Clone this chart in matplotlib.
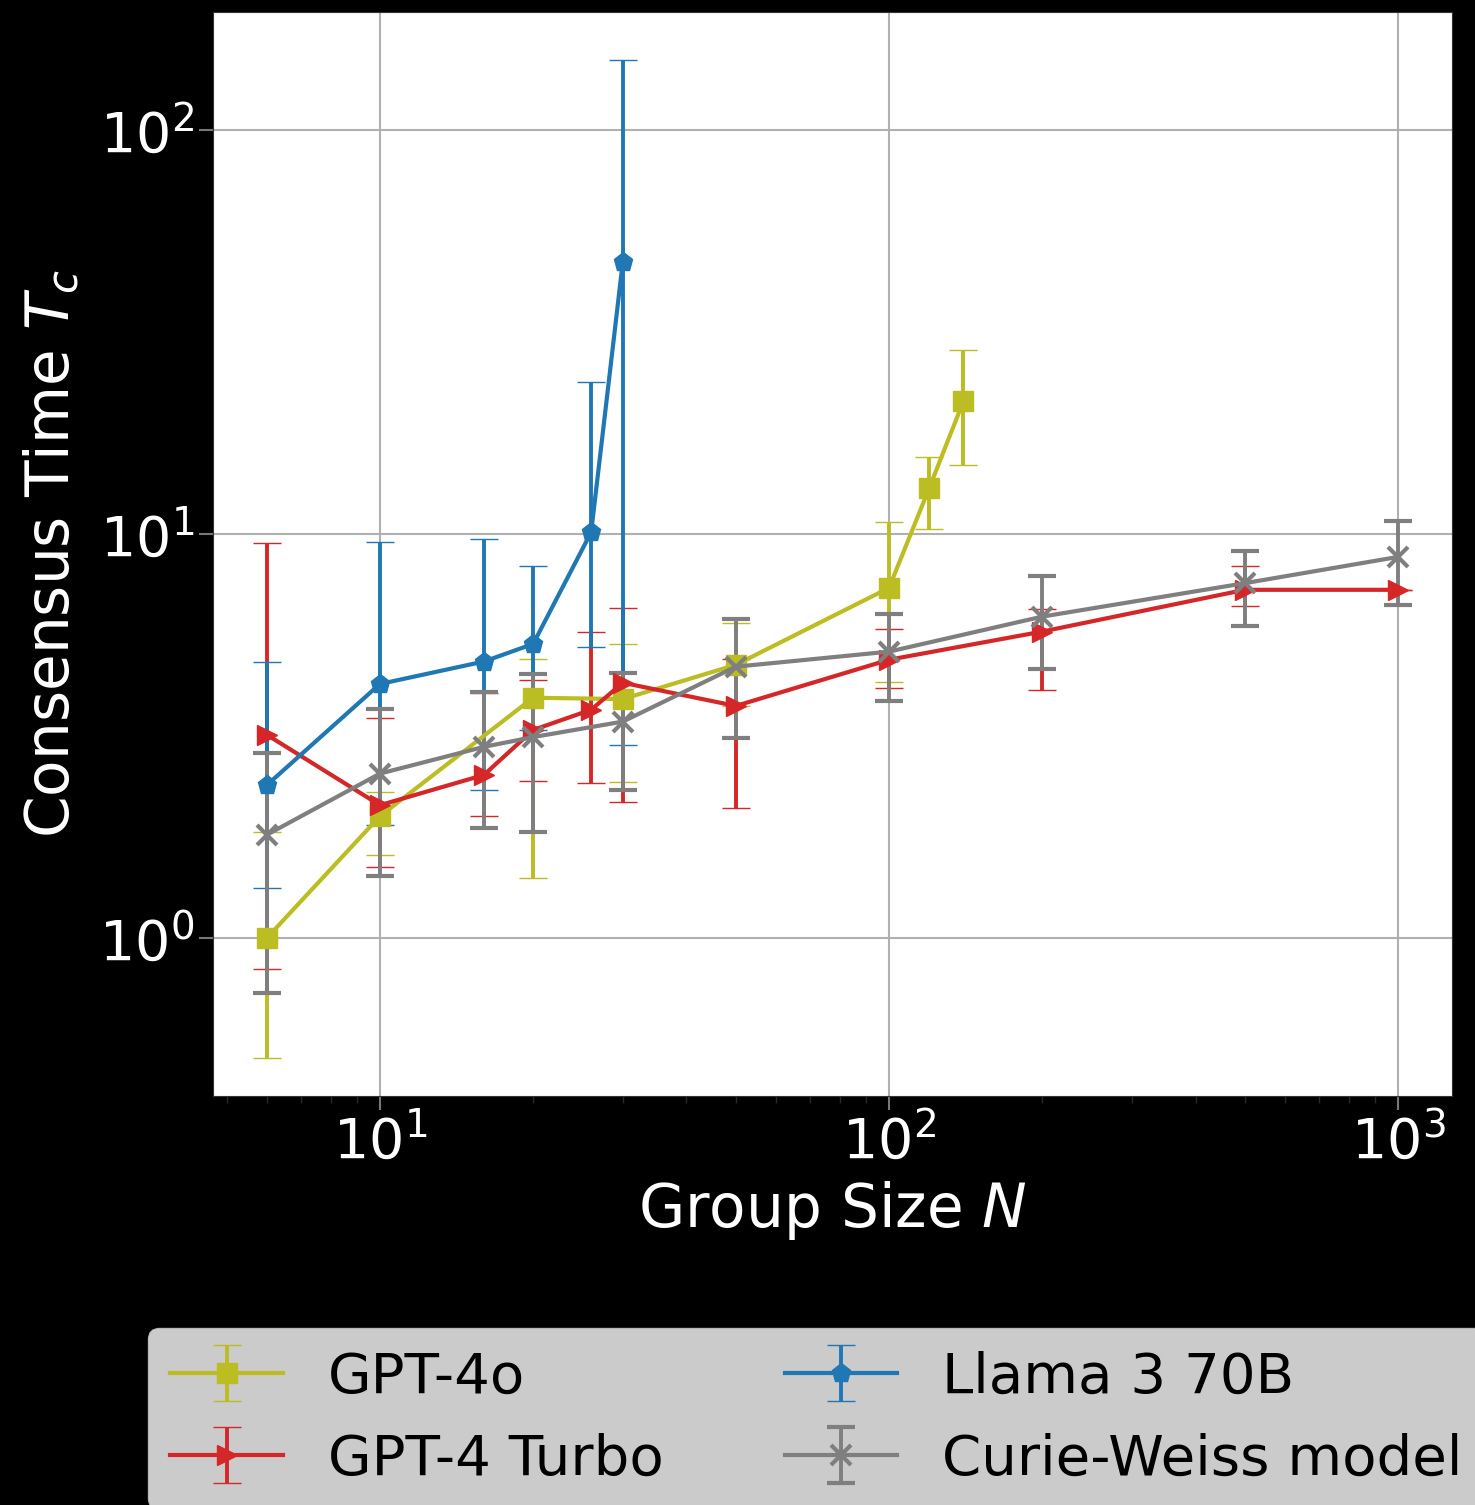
import matplotlib
matplotlib.use('Agg')
import matplotlib.pyplot as plt
import numpy as np

# group sizes
n_4o = [6, 10, 20, 30, 50, 100, 120, 140]
n_turbo = [6, 10, 16, 20, 26, 30, 50, 100, 200, 500, 1000]
n_llama = [6, 10, 16, 20, 26, 30]
n_cw = [6, 10, 16, 20, 30, 50, 100, 200, 500, 1000]

# consensus times with lower / upper error bar ends
t_4o = [1.0, 2.0, 3.93, 3.9, 4.74, 7.35, 13.0, 21.3]
lo_4o = [0.505, 1.60, 1.41, 2.43, 3.75, 4.30, 10.3, 14.8]
hi_4o = [1.83, 2.30, 4.90, 5.34, 6.02, 10.7, 15.5, 28.5]

t_turbo = [3.18, 2.13, 2.53, 3.27, 3.67, 4.28, 3.75, 4.88, 5.73, 7.27, 7.27]
lo_turbo = [0.838, 1.50, 2.0, 2.45, 2.42, 2.17, 2.10, 4.15, 4.11, 6.63, 7.27]
hi_turbo = [9.5, 3.51, 4.04, 4.35, 5.70, 6.56, 4.9, 5.82, 6.5, 8.35, 7.27]

t_llama = [2.39, 4.25, 4.83, 5.34, 10.1, 47.2]
lo_llama = [1.33, 1.9, 2.32, 3.27, 5.26, 3.0]
hi_llama = [4.83, 9.57, 9.72, 8.33, 23.8, 149]

t_cw = [1.80, 2.55, 2.97, 3.14, 3.43, 4.69, 5.11, 6.24, 7.55, 8.77]
lo_cw = [0.731, 1.42, 1.87, 1.83, 2.32, 3.13, 3.86, 4.63, 5.90, 6.67]
hi_cw = [2.87, 3.69, 4.05, 4.5, 4.53, 6.16, 6.34, 7.88, 9.09, 10.77]

series = [
    ('GPT-4o', n_4o, t_4o, lo_4o, hi_4o, '#bcbd22', 's'),
    ('GPT-4 Turbo', n_turbo, t_turbo, lo_turbo, hi_turbo, '#d62728', '>'),
    ('Llama 3 70B', n_llama, t_llama, lo_llama, hi_llama, '#1f77b4', 'p'),
    ('Curie-Weiss model', n_cw, t_cw, lo_cw, hi_cw, '#7f7f7f', 'x'),
]

plt.rcParams['text.color'] = 'white'
plt.rcParams['axes.labelcolor'] = 'white'
plt.rcParams['xtick.labelcolor'] = 'white'
plt.rcParams['ytick.labelcolor'] = 'white'

fig = plt.figure(figsize=(14.75, 15.05), dpi=100, facecolor='black')
ax = fig.add_axes([0.1444, 0.2718, 0.84, 0.7203])
ax.set_facecolor('white')

for name, n, t, lo, hi, c, m in series:
    t = np.array(t)
    yerr = [t - np.array(lo), np.array(hi) - t]
    ax.errorbar(n, t, yerr=yerr, color=c, marker=m, markersize=14,
                lw=3, elinewidth=2.8, capsize=10, capthick=2.8, label=name,
                markeredgewidth=3 if m == 'x' else 1)

ax.set_xscale('log')
ax.set_yscale('log')
ax.set_xlim(4.70, 1276)
ax.set_ylim(0.406, 196)
ax.grid(True, which='major', color='#b0b0b0', lw=1.5)
ax.set_axisbelow(True)
for s in ax.spines.values():
    s.set_color('#333333')

ax.tick_params(which='major', labelsize=40, length=10, width=1.5, color='#777777')
ax.tick_params(axis='x', which='minor', length=5, width=1, color='#2a2a2a')
ax.tick_params(axis='y', which='minor', length=5, width=1, color='black')
ax.set_xlabel('Group Size $N$', fontsize=43, labelpad=6)
ax.set_ylabel('Consensus Time $T_c$', fontsize=43, labelpad=12)

fig.legend(loc='upper left', bbox_to_anchor=(0.1003, 0.1176), ncol=2,
           fontsize=40.5, labelcolor='black', frameon=True, handlelength=2,
           columnspacing=2.15, borderaxespad=0)

fig.savefig('out.png', dpi=100, facecolor='black')
